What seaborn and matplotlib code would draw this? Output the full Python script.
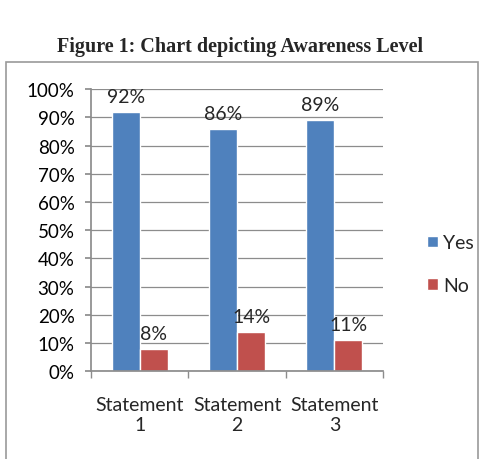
import pandas as pd
import matplotlib
matplotlib.use("Agg")
import matplotlib.pyplot as plt
import matplotlib.ticker as mticker
from matplotlib.patches import Rectangle
import seaborn as sns

# data
statements = ["Statement\n1", "Statement\n2", "Statement\n3"]
yes_pct = [92, 86, 89]
no_pct = [8, 14, 11]
answers = ["Yes", "No"]

df = pd.DataFrame({
    "statement": statements * 2,
    "answer": ["Yes"] * 3 + ["No"] * 3,
    "pct": yes_pct + no_pct,
})

sns.set_theme(style="white")
plt.rcParams["font.family"] = ["Lato", "DejaVu Sans"]
COLORS = {"Yes": "#4F81BD", "No": "#C0504D"}

fig = plt.figure(figsize=(4.8, 4.6), dpi=100)
# outer frame around chart
fig.patches.append(Rectangle((0.012, -0.01), 0.983, 0.872, transform=fig.transFigure,
                             fill=False, edgecolor="#9a9a9a", linewidth=1.2))
fig.text(0.5, 0.898, "Figure 1: Chart depicting Awareness Level", ha="center", va="center",
         fontsize=14.5, fontweight="bold", family="Liberation Serif")

ax = fig.add_axes([0.19, 0.191, 0.608, 0.613])
sns.barplot(data=df, x="statement", y="pct", hue="answer", hue_order=answers,
            palette=COLORS, width=0.576, saturation=1, ax=ax, legend=True)

ax.set_ylim(0, 100)
ax.set_xlim(-0.5, 2.5)
ax.yaxis.set_major_locator(mticker.MultipleLocator(10))
ax.yaxis.set_major_formatter(mticker.FuncFormatter(lambda v, p: f"{v:.0f}%"))
ax.grid(axis="y", color="#8c8c8c", linewidth=0.9)
ax.set_axisbelow(True)
for s in ["top", "right"]:
    ax.spines[s].set_visible(False)
for s in ["left", "bottom"]:
    ax.spines[s].set_color("#8c8c8c")
ax.set_xlabel("")
ax.set_ylabel("")
ax.tick_params(axis="y", left=True, length=4, color="#8c8c8c", labelsize=13.5,
               colors="black", pad=8)
ax.tick_params(axis="x", bottom=False, labelsize=14, pad=12)
ax.xaxis.set_minor_locator(mticker.FixedLocator([-0.5, 0.5, 1.5, 2.5]))
ax.tick_params(axis="x", which="minor", bottom=True, length=5, color="#8c8c8c")
for lab in ax.get_xticklabels():
    lab.set_linespacing(1.2)

# value labels
for cont in ax.containers:
    labels = [f"{v:.0f}%" for v in cont.datavalues]
    ax.bar_label(cont, labels=labels, padding=5, fontsize=14)

leg = ax.legend(loc="center left", bbox_to_anchor=(1.09, 0.38), frameon=False,
                fontsize=14, handlelength=0.55, handleheight=0.55, labelspacing=1.3,
                handletextpad=0.3)

fig.savefig("out.png", dpi=100)
